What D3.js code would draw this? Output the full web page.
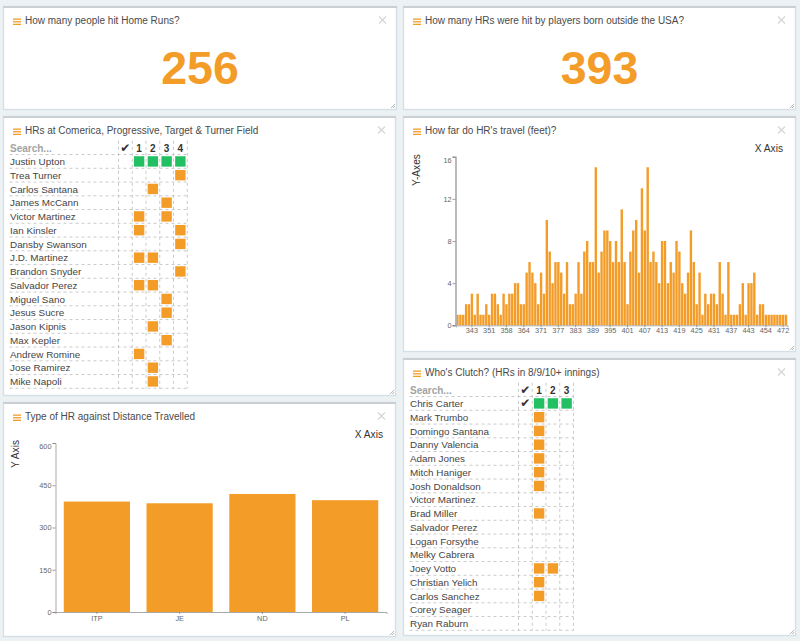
<!DOCTYPE html>
<html>
<head>
<meta charset="UTF-8">
<title>Home Run Dashboard</title>
<script src="https://d3js.org/d3.v7.min.js"></script>
<style>
  html, body { margin: 0; padding: 0; background: #ecf1f4; overflow: hidden; }
  svg { display: block; font-family: "Liberation Sans", Arial, sans-serif; }
  .title { font-size: 10px; fill: #4a4a4a; }
  .name { font-size: 9.9px; fill: #444; }
  .axis-label { font-size: 10.2px; fill: #333; }
  .tick-text { font-size: 7.3px; fill: #666; }
</style>
</head>
<body>
<svg id="chart" width="800" height="641"></svg>
<script>
var orange = "#f39c28";
var green = "#22c063";

var hrPeople = 256;
var hrForeign = 393;

var fieldNames = ["Justin Upton", "Trea Turner", "Carlos Santana", "James McCann", "Victor Martinez", "Ian Kinsler", "Dansby Swanson", "J.D. Martinez", "Brandon Snyder", "Salvador Perez", "Miguel Sano", "Jesus Sucre", "Jason Kipnis", "Max Kepler", "Andrew Romine", "Jose Ramirez", "Mike Napoli"];
var fieldHits = [[1,2,3,4], [4], [2], [3], [1,3], [1,4], [4], [1,2], [4], [1,2], [3], [3], [2], [3], [1], [2], [2]];
var fieldColumns = ["1", "2", "3", "4"];

var clutchNames = ["Chris Carter", "Mark Trumbo", "Domingo Santana", "Danny Valencia", "Adam Jones", "Mitch Haniger", "Josh Donaldson", "Victor Martinez", "Brad Miller", "Salvador Perez", "Logan Forsythe", "Melky Cabrera", "Joey Votto", "Christian Yelich", "Carlos Sanchez", "Corey Seager", "Ryan Raburn"];
var clutchHits = [[1,2,3], [1], [1], [1], [1], [1], [1], [], [1], [], [], [], [1,2], [1], [1], [], []];
var clutchColumns = ["1", "2", "3"];
var clutchChecked = ["Chris Carter"];

// HRs per distance bucket
var distCounts = [1,1,1,2,2,3,1,3,1,1,2,1,3,3,2,1,3,2,3,3,4,4,2,2,5,6,5,4,2,5,3,10,7,4,6,6,5,3,6,2,2,3,6,3,7,8,6,6,15,5,7,9,9,8,6,8,6,11,6,2,7,9,10,5,13,9,15,6,7,6,4,8,8,4,6,5,8,7,4,3,5,9,6,2,5,1,3,2,3,3,2,6,3,1,6,1,1,1,2,4,1,4,4,5,1,2,2,1,1,1,1,1,1,1,1];
var distTickLabels = ["343","351","358","364","371","377","383","389","395","401","407","413","419","425","431","437","443","454","472"];
var distYTicks = [0, 4, 8, 12, 16];

var typeNames = ["ITP", "JE", "ND", "PL"];
var typeValues = [392, 386, 419, 397];
var typeYTicks = [0, 150, 300, 450, 600];

var svg = d3.select("#chart");

function panel(x, y, w, h, title) {
  var g = svg.append("g").attr("transform", "translate(" + x + "," + y + ")");
  g.append("rect").attr("x", 0.5).attr("y", 0.5).attr("width", w - 1).attr("height", h - 1)
    .attr("fill", "#fff").attr("stroke", "#d5e0e6").attr("stroke-width", 1.4);
  g.append("rect").attr("width", w).attr("height", 2).attr("fill", "#c9cfd2");
  g.selectAll("rect.bun").data([0, 1, 2]).enter().append("rect").attr("class", "bun")
    .attr("x", 10).attr("y", function(d) { return 12.5 + d * 2.6; })
    .attr("width", 8).attr("height", 1.3).attr("fill", orange);
  g.append("text").attr("class", "title").attr("x", 22).attr("y", 17.8).text(title);
  g.append("path").attr("d", "M" + (w - 18) + ",10.5l7,7M" + (w - 11) + ",10.5l-7,7")
    .attr("stroke", "#d4d4d4").attr("stroke-width", 1.1);
  g.append("path").attr("d", "M" + (w - 6) + "," + (h - 2) + "l4,-4M" + (w - 4) + "," + (h - 2) + "l2,-2")
    .attr("stroke", "#999").attr("stroke-width", 0.7);
  return g;
}

function bigNumber(g, w, value) {
  g.append("text").attr("x", w / 2).attr("y", 78).attr("text-anchor", "middle")
    .attr("font-size", 46.5).attr("font-weight", "bold").attr("fill", orange).text(value);
}

function hitTable(g, names, hits, columns, checked, left, top) {
  var rowH = 13.75;
  var allCols = ["check"].concat(columns);
  var x = d3.scaleBand().domain(allCols).range([left, left + allCols.length * rowH]);
  var y = d3.scaleBand().domain(names).range([top + rowH, top + rowH * (names.length + 1)]);
  var right = x.range()[1], bottom = y.range()[1];

  // dashed grid
  var rules = g.append("g").attr("stroke", "#bcbcbc").attr("stroke-dasharray", "3,3").attr("stroke-width", 0.8);
  rules.selectAll("line.h").data(d3.range(names.length + 1)).enter().append("line")
    .attr("x1", 6.5).attr("x2", right)
    .attr("y1", function(d) { return top + rowH * (d + 1); })
    .attr("y2", function(d) { return top + rowH * (d + 1); });
  rules.selectAll("line.v").data(d3.range(allCols.length + 1)).enter().append("line")
    .attr("x1", function(d) { return left + d * rowH; })
    .attr("x2", function(d) { return left + d * rowH; })
    .attr("y1", top).attr("y2", bottom);

  g.append("text").attr("x", 7).attr("y", top + 11).attr("font-size", 10).attr("font-weight", "bold")
    .attr("fill", "#a3a3a3").text("Search...");
  g.selectAll("text.head").data(allCols).enter().append("text").attr("class", "head")
    .attr("x", function(d) { return x(d) + x.bandwidth() / 2; })
    .attr("y", top + 11).attr("text-anchor", "middle").attr("font-weight", "bold").attr("fill", "#333")
    .attr("font-size", function(d) { return d == "check" ? 12 : 10; })
    .style("font-family", function(d) { return d == "check" ? "DejaVu Sans" : null; })
    .text(function(d) { return d == "check" ? "\u2714" : d; });

  g.selectAll("text.name").data(names).enter().append("text").attr("class", "name")
    .attr("x", 7).attr("y", function(d) { return y(d) + y.bandwidth() / 2 + 3.6; })
    .text(function(d) { return d; });

  g.selectAll("text.chk").data(checked).enter().append("text").attr("class", "chk")
    .attr("x", x("check") + x.bandwidth() / 2)
    .attr("y", function(d) { return y(d) + y.bandwidth() / 2 + 4; })
    .attr("text-anchor", "middle").attr("font-size", 12).attr("fill", "#333")
    .style("font-family", "DejaVu Sans").text("\u2714");

  names.forEach(function(name, i) {
    var full = hits[i].length == columns.length;
    g.selectAll("rect.r" + i).data(hits[i]).enter().append("rect").attr("class", "r" + i)
      .attr("x", function(d) { return x(String(d)) + (x.bandwidth() - 10.4) / 2; })
      .attr("y", y(name) + (y.bandwidth() - 10.4) / 2)
      .attr("width", 10.4).attr("height", 10.4)
      .attr("fill", full ? green : orange);
  });
}

function styleAxis(a, lineW) {
  a.selectAll("text").attr("class", "tick-text");
  a.selectAll("line").attr("stroke", "#777").attr("stroke-width", 0.7);
  a.select(".domain").attr("stroke", "#aaa").attr("stroke-width", lineW);
}

// the top label of each y axis sits just under its tick
function nudgeTopLabel(a, topValue) {
  a.selectAll(".tick").filter(function(d) { return d == topValue; })
    .select("text").attr("dy", "0.78em");
}

// top counters
bigNumber(panel(3, 6, 394, 104, "How many people hit Home Runs?"), 394, hrPeople);
bigNumber(panel(403, 6, 393, 104, "How many HRs were hit by players born outside the USA?"), 393, hrForeign);

// park table
hitTable(panel(3, 116, 393, 280, "HRs at Comerica, Progressive, Target & Turner Field"),
  fieldNames, fieldHits, fieldColumns, [], 115.5, 24.8);

// clutch table
hitTable(panel(403, 358, 393, 278, "Who's Clutch? (HRs in 8/9/10+ innings)"),
  clutchNames, clutchHits, clutchColumns, clutchChecked, 115.5, 24.8);

// distance histogram
var hist = panel(403, 116, 393, 236, "How far do HR's travel (feet)?");
var histX = d3.scaleBand().domain(d3.range(distCounts.length)).range([53, 384.5]).paddingInner(0.17).paddingOuter(0.1);
var histY = d3.scaleLinear().domain([0, 16]).range([209.3, 40.7]);
hist.selectAll("rect.bar").data(distCounts).enter().append("rect").attr("class", "bar")
  .attr("x", function(d, i) { return histX(i); })
  .attr("y", function(d) { return histY(d); })
  .attr("width", histX.bandwidth())
  .attr("height", function(d) { return histY(0) - histY(d); })
  .attr("fill", orange);
var histTickIdx = distTickLabels.map(function(d, i) { return 5 + i * 6; });
var hx = hist.append("g").attr("transform", "translate(0,209.3)")
  .call(d3.axisBottom(histX).tickValues(histTickIdx).tickSize(2).tickPadding(1)
    .tickFormat(function(d) { return distTickLabels[(d - 5) / 6]; }));
styleAxis(hx, 1);
var hy = hist.append("g").attr("transform", "translate(52.5,0)")
  .call(d3.axisLeft(histY).tickValues(distYTicks).tickSize(3).tickPadding(1));
styleAxis(hy, 1.6);
nudgeTopLabel(hy, 16);
hist.append("text").attr("class", "axis-label").attr("x", 380).attr("y", 36).attr("text-anchor", "end").text("X Axis");
hist.append("text").attr("class", "axis-label").attr("transform", "translate(17,54) rotate(-90)")
  .attr("text-anchor", "middle").text("Y-Axes");

// type vs distance
var typePanel = panel(3, 402, 393, 235, "Type of HR against Distance Travelled");
var typeX = d3.scaleBand().domain(typeNames).range([52.5, 383.5]).paddingInner(0.2).paddingOuter(0.1);
var typeY = d3.scaleLinear().domain([0, 600]).range([210, 41]);
typePanel.selectAll("rect.bar").data(typeValues).enter().append("rect").attr("class", "bar")
  .attr("x", function(d, i) { return typeX(typeNames[i]); })
  .attr("y", function(d) { return typeY(d); })
  .attr("width", typeX.bandwidth())
  .attr("height", function(d) { return typeY(0) - typeY(d); })
  .attr("fill", orange);
var tx = typePanel.append("g").attr("transform", "translate(0,210)")
  .call(d3.axisBottom(typeX).tickSize(2).tickPadding(2));
styleAxis(tx, 1);
var ty = typePanel.append("g").attr("transform", "translate(52.5,0)")
  .call(d3.axisLeft(typeY).tickValues(typeYTicks).tickSize(3).tickPadding(1));
styleAxis(ty, 1);
nudgeTopLabel(ty, 600);
typePanel.append("text").attr("class", "axis-label").attr("x", 380).attr("y", 36).attr("text-anchor", "end").text("X Axis");
typePanel.append("text").attr("class", "axis-label").attr("transform", "translate(16,52) rotate(-90)")
  .attr("text-anchor", "middle").text("Y Axis");
</script>
</body>
</html>
